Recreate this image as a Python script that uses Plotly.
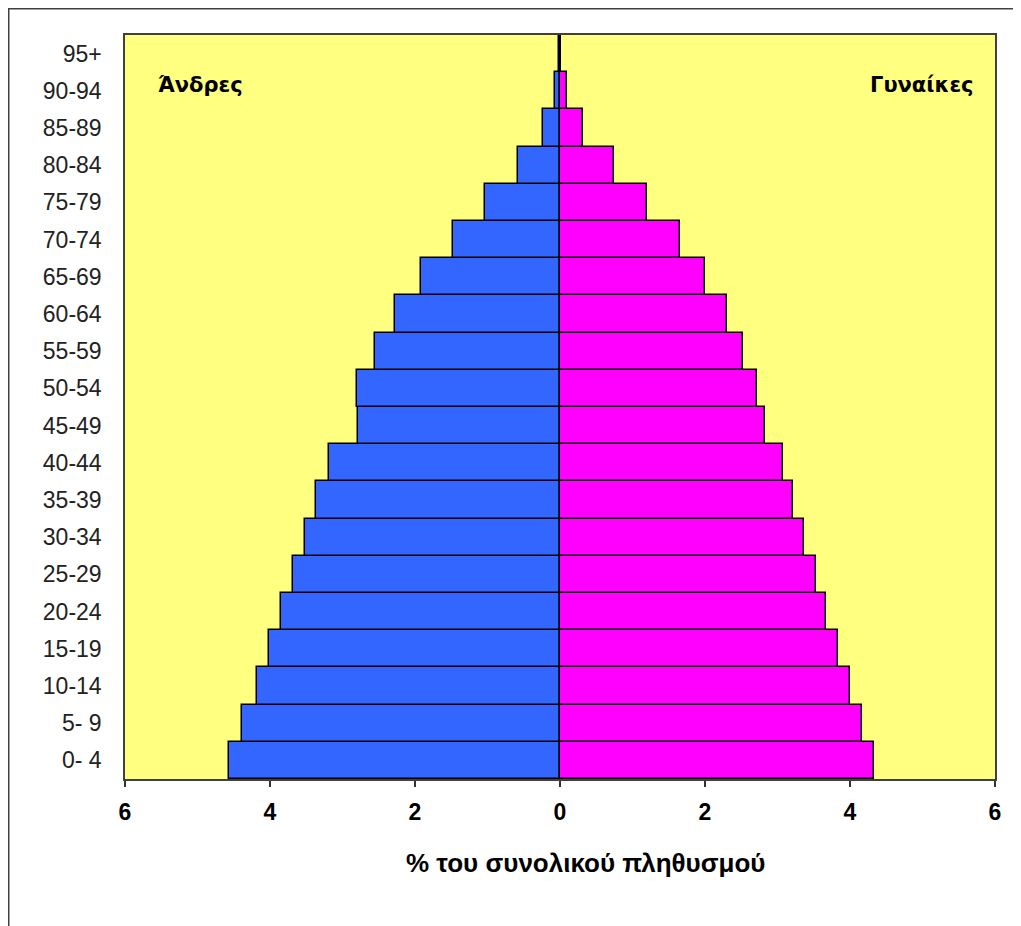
import plotly.graph_objects as go

age_groups = ["0- 4", "5- 9", "10-14", "15-19", "20-24", "25-29", "30-34", "35-39",
              "40-44", "45-49", "50-54", "55-59", "60-64", "65-69", "70-74", "75-79",
              "80-84", "85-89", "90-94", "95+"]
men = [4.57, 4.38, 4.18, 4.02, 3.85, 3.68, 3.52, 3.36, 3.19, 2.78, 2.80, 2.55,
       2.27, 1.92, 1.48, 1.03, 0.58, 0.23, 0.07, 0.02]
women = [4.33, 4.16, 4.00, 3.83, 3.67, 3.53, 3.36, 3.22, 3.08, 2.83, 2.72, 2.53,
         2.31, 2.00, 1.65, 1.20, 0.74, 0.32, 0.10, 0.02]
tick_vals = [-6, -4, -2, 0, 2, 4, 6]
tick_text = ["6", "4", "2", "0", "2", "4", "6"]

OFF = 8  # page body margin
W, H = 1021 - OFF, 926 - OFF
L, R, T, B = 125 - OFF, 26, 35 - OFF, 147
pw, ph = W - L - R, H - T - B

def px_x(p):
    return (p - OFF - L) / pw

def px_y(p):
    return (H - B - (p - OFF)) / ph

fig = go.Figure()
fig.add_trace(go.Bar(
    y=age_groups, x=[-v for v in men], orientation="h", name="Άνδρες",
    marker=dict(color="#3366FF", line=dict(color="black", width=1.5)),
    customdata=men, hovertemplate="%{y}: %{customdata}%<extra>Άνδρες</extra>",
))
fig.add_trace(go.Bar(
    y=age_groups, x=women, orientation="h", name="Γυναίκες",
    marker=dict(color="#FF00FF", line=dict(color="black", width=1.5)),
    hovertemplate="%{y}: %{x}%<extra>Γυναίκες</extra>",
))

fig.update_layout(
    width=W, height=H,
    margin=dict(l=L, r=R, t=T, b=B),
    barmode="relative", bargap=0,
    paper_bgcolor="white", plot_bgcolor="#FFFF80",
    showlegend=False,
    font=dict(family="Liberation Sans, Arial, sans-serif", color="black"),
    xaxis=dict(
        range=[-6, 6], tickvals=tick_vals, ticktext=tick_text,
        ticks="outside", ticklen=6, tickwidth=1.5, tickcolor="#333333",
        showgrid=False, zeroline=False,
        showline=True, linecolor="#404040", linewidth=1.5, mirror=True,
        tickfont=dict(size=23, family="Liberation Sans, Arial", weight="bold"),
        ticklabelstandoff=6,
    ),
    yaxis=dict(
        categoryorder="array", categoryarray=age_groups,
        showgrid=False, zeroline=False, ticks="",
        showline=True, linecolor="#404040", linewidth=1.5, mirror=True,
        tickfont=dict(size=23, color="#222222"),
        ticklabelstandoff=17,
    ),
    annotations=[
        dict(text="<b>Άνδρες</b>", x=px_x(156), y=px_y(85), xref="paper", yref="paper",
             xanchor="left", yanchor="middle", showarrow=False,
             font=dict(size=21, family="DejaVu Sans, sans-serif")),
        dict(text="<b>Γυναίκες</b>", x=px_x(976), y=px_y(85), xref="paper", yref="paper",
             xanchor="right", yanchor="middle", showarrow=False,
             font=dict(size=21, family="DejaVu Sans, sans-serif")),
        dict(text="<b>% του συνολικού πληθυσμού</b>", x=px_x(585), y=px_y(863),
             xref="paper", yref="paper", xanchor="center", yanchor="middle",
             showarrow=False, font=dict(size=26, family="Liberation Sans, Arial")),
    ],
    shapes=[
        dict(type="rect", xref="paper", yref="paper",
             x0=px_x(OFF + 0.5), x1=px_x(1060), y0=px_y(980), y1=px_y(OFF + 0.5),
             line=dict(color="#404040", width=2), fillcolor="rgba(0,0,0,0)", layer="below"),
    ],
)

fig.write_html("out.html")
